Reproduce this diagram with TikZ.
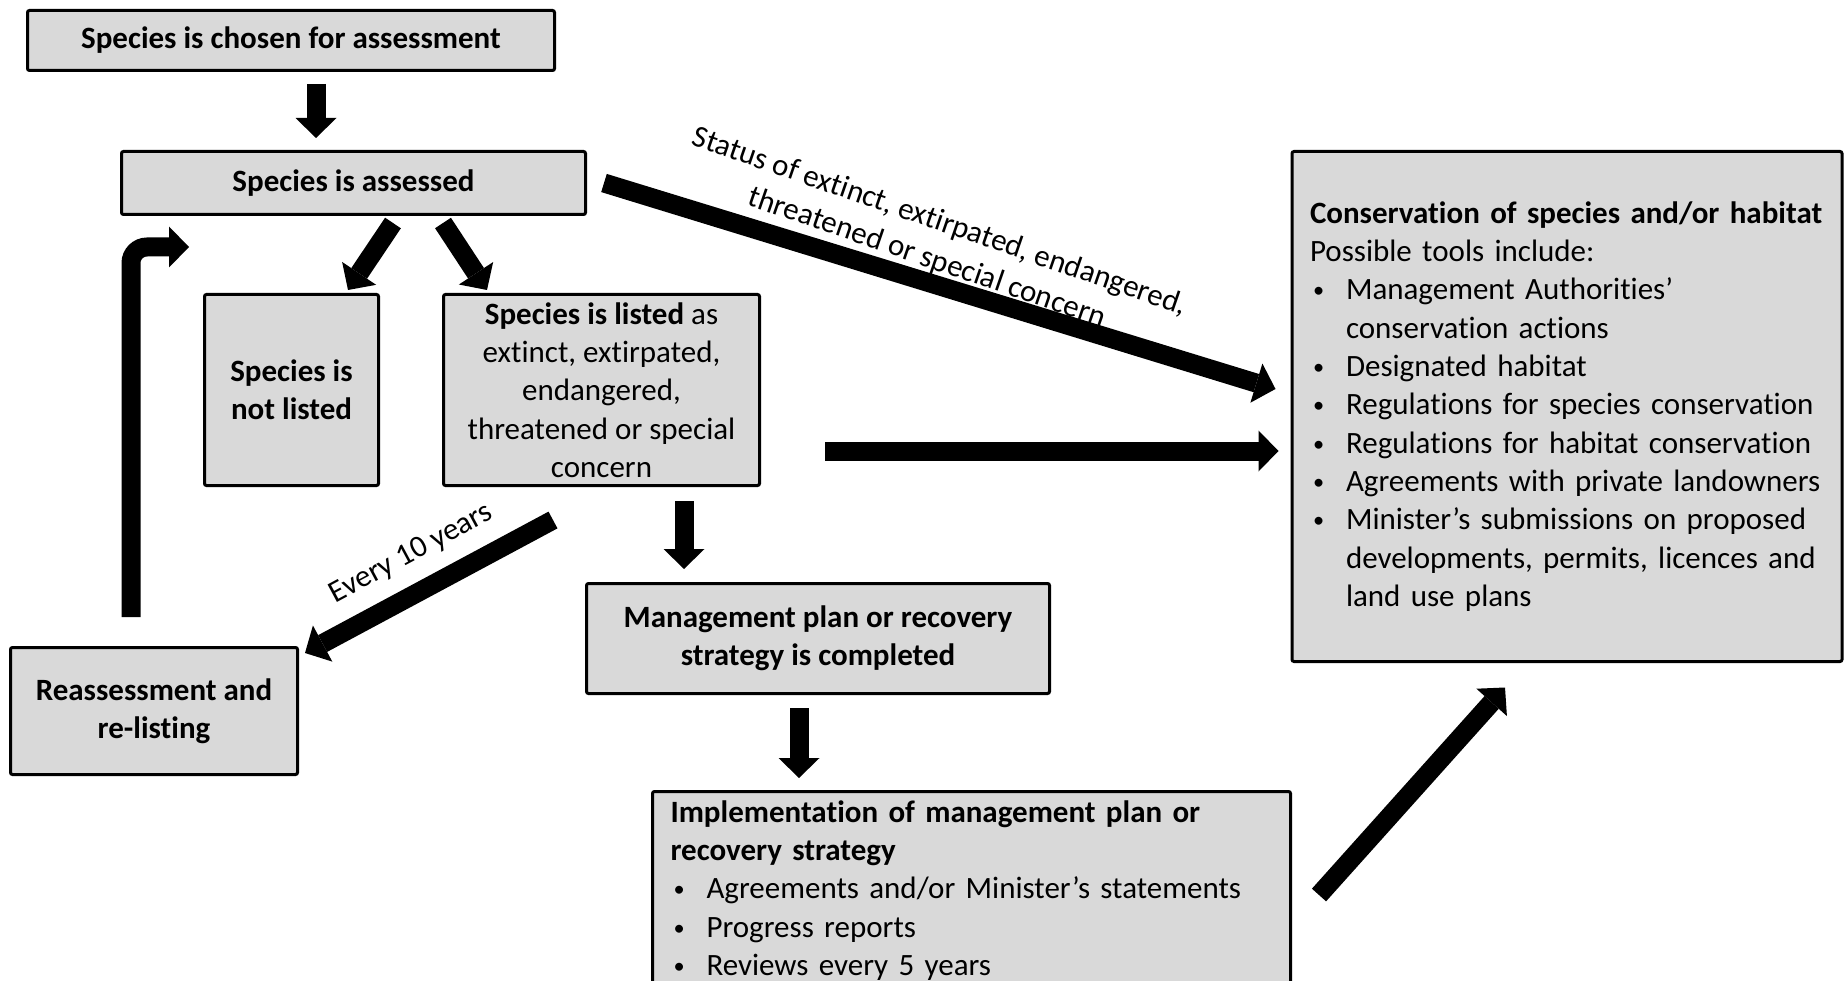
\documentclass[tikz,border=0pt]{standalone}
\usepackage{fontspec}
\setmainfont{Carlito}[Ligatures={NoCommon}, Contextuals={NoAlternate}]
\usetikzlibrary{arrows.meta}
\definecolor{boxgray}{HTML}{D9D9D9}
\newcommand\bitem{\\\makebox[36pt][l]{\hspace{3pt}\raisebox{2pt}{\scalebox{0.72}{\textbullet}}}}
\newcommand\bcont{\\\hspace*{36pt}}

\begin{document}
\begin{tikzpicture}[x=1pt, y=-1pt,
  >={Triangle[width=41pt,length=20pt,line width=0pt]},
  box/.style = {draw, line width=3pt, fill=boxgray, rounded corners=2pt,
    align=center, inner sep=0pt, font=\fontsize{31pt}{38.3pt}\selectfont\bfseries},
  blk/.style = {line width=19pt, ->},
  lbl/.style = {inner sep=0pt, align=center, font=\fontsize{31pt}{38.3pt}\selectfont},
 ]
 \useasboundingbox (0,0) rectangle (1847,981);

 \node[box, minimum width=527pt, minimum height=60pt] (chosen) at (291,40.5) {Species is chosen for assessment};
 \node[box, minimum width=464pt, minimum height=63pt] (assessed) at (353.5,183) {Species is assessed};
 \node[box, minimum width=174pt, minimum height=191pt] (notlisted) at (291.5,390) {Species is\\not listed};
 \node[box, minimum width=316pt, minimum height=191pt, font=\fontsize{31pt}{38.3pt}\selectfont] (listed) at (601.5,390)
   {\textbf{Species is listed} as\\extinct, extirpated,\\endangered,\\threatened or special\\concern};
 \node[box, minimum width=463pt, minimum height=110pt] (mgmt) at (818,638.5) {Management plan or recovery\\strategy is completed};
 \node[box, minimum width=287pt, minimum height=127pt] (reassess) at (154,711) {Reassessment and\\re-listing};
 \node[box, align=left, text width=514pt, inner xsep=18pt, minimum height=510pt,
   font=\fontsize{31pt}{38.3pt}\selectfont] (tools) at (1567,406.5)
   {\textbf{Conservation of species and/or habitat}\\Possible tools include:%
    \bitem Management Authorities’\bcont conservation actions
    \bitem Designated habitat
    \bitem Regulations for species conservation
    \bitem Regulations for habitat conservation
    \bitem Agreements with private landowners
    \bitem Minister’s submissions on proposed\bcont developments, permits, licences and\bcont land use plans};
 \node[box, anchor=north west, align=left, text width=602pt, inner xsep=18pt, inner ysep=9pt,
   font=\fontsize{31pt}{38.3pt}\selectfont] (impl) at (651,790)
   {\textbf{Implementation of management plan or}\\\textbf{recovery strategy}%
    \bitem Agreements and/or Minister’s statements
    \bitem Progress reports
    \bitem Reviews every 5 years};

 % arrows
 \draw[blk] ([xshift=25pt,yshift=-12pt]chosen.south) -- ([xshift=-37.5pt,yshift=12pt]assessed.north);
 \draw[blk] ([xshift=39.5pt,yshift=-7pt]assessed.south) -- ([xshift=56.5pt,yshift=3pt]notlisted.north);
 \draw[blk] ([xshift=89.5pt,yshift=-7pt]assessed.south) -- ([xshift=-114.5pt,yshift=3pt]listed.north);
 \draw[blk] ([xshift=17pt]assessed.east) -- ([xshift=-15pt,yshift=17.5pt]tools.west)
   node[lbl, pos=0.47, sloped, above=0pt, rotate=-2] {Status of extinct, extirpated, endangered,\\threatened or special concern};
 \draw[blk] ([xshift=64pt,yshift=-61pt]listed.east) -- ([xshift=-12pt,yshift=-44.5pt]tools.west);
 \draw[blk] ([xshift=82.5pt,yshift=-14pt]listed.south) -- ([xshift=-134pt,yshift=13pt]mgmt.north);
 \draw[blk] ([xshift=-19pt,yshift=-13pt]mgmt.south) -- ([xshift=-172.5pt,yshift=12pt]impl.north);
 \draw[blk] ([xshift=27pt,yshift=-105pt]impl.north east) -- ([xshift=-62pt,yshift=-24.5pt]tools.south);
 \draw[blk, <-] ([xshift=6pt,yshift=-7pt]reassess.north east) -- ([xshift=111pt,yshift=-33pt]listed.south west)
   node[lbl, midway, sloped, above=15pt] {Every 10 years};
 \draw[blk, rounded corners=16pt] ([xshift=-23pt,yshift=29pt]reassess.north) |- ([xshift=69pt,yshift=-31pt]assessed.south west);
\end{tikzpicture}
\end{document}
